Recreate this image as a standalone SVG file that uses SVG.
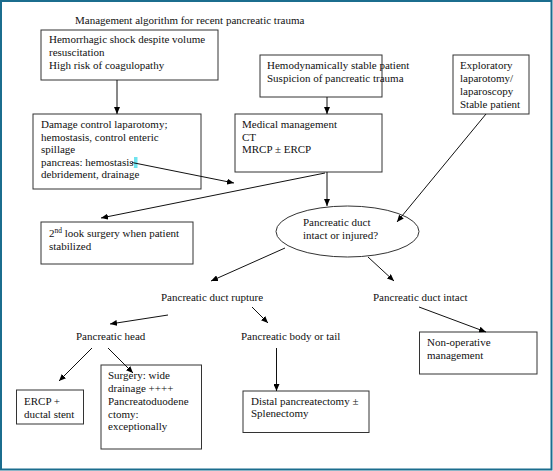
<svg xmlns="http://www.w3.org/2000/svg" width="553" height="471" viewBox="0 0 553 471">
<defs>
<marker id="ah" markerUnits="userSpaceOnUse" markerWidth="8" markerHeight="6" refX="7" refY="3" orient="auto">
<path d="M0,0 L7,3 L0,6 Z" fill="#000"/>
</marker>
<style>
text{font-family:"Liberation Serif","Times New Roman",serif;font-size:11px;fill:#111}
.box{fill:#fff;stroke:#333;stroke-width:1}
.c{stroke:#111;stroke-width:1;fill:none;marker-end:url(#ah)}
</style>
</defs>
<rect x="0" y="0" width="553" height="471" fill="#fff"/>
<rect x="1" y="1" width="550.5" height="468.5" fill="none" stroke="#1b6d8e" stroke-width="2"/>
<text x="75" y="24">Management algorithm for recent pancreatic trauma</text>

<g id="n-shock">
<rect class="box" x="41" y="30" width="177" height="50"/>
<text x="49" y="43">Hemorrhagic shock despite volume</text>
<text x="49" y="56">resuscitation</text>
<text x="49" y="69">High risk of coagulopathy</text>
</g>

<g id="n-damage">
<rect class="box" x="33" y="114" width="168" height="75"/>
<text x="41" y="128">Damage control laparotomy;</text>
<text x="41" y="140.5">hemostasis, control enteric</text>
<text x="41" y="153">spillage</text>
<text x="41" y="165.5">pancreas: hemostasis,</text>
<text x="41" y="178">debridement, drainage</text>
<rect x="134" y="157" width="3.5" height="11" fill="#6fe3ee"/>
</g>

<g id="n-stable">
<rect class="box" x="260" y="55" width="122" height="42"/>
<text x="267" y="68.5">Hemodynamically stable patient</text>
<text x="267" y="81.5">Suspicion of pancreatic trauma</text>
</g>

<g id="n-medical">
<rect class="box" x="235" y="114" width="147" height="58"/>
<text x="242" y="128">Medical management</text>
<text x="242" y="140.5">CT</text>
<text x="242" y="153">MRCP ± ERCP</text>
</g>

<g id="n-explor">
<rect class="box" x="453" y="55" width="76" height="59"/>
<text x="460" y="68.5">Exploratory</text>
<text x="460" y="81.5">laparotomy/</text>
<text x="460" y="94.5">laparoscopy</text>
<text x="460" y="107.5">Stable patient</text>
</g>

<g id="n-duct">
<ellipse cx="347.5" cy="231.5" rx="71.5" ry="25.5" fill="#fff" stroke="#333" stroke-width="1"/>
<text x="303" y="226">Pancreatic duct</text>
<text x="303" y="239">intact or injured?</text>
</g>

<g id="n-secondlook">
<rect class="box" x="41" y="222" width="152" height="42"/>
<text x="49" y="237">2<tspan font-size="7.5" dy="-4">nd</tspan><tspan dy="4"> look surgery when patient</tspan></text>
<text x="49" y="249.5">stabilized</text>
</g>

<g id="n-rupture">
<text x="161" y="301">Pancreatic duct rupture</text>
</g>

<g id="n-intact">
<text x="373" y="301">Pancreatic duct intact</text>
</g>

<g id="n-nonop">
<rect class="box" x="419.5" y="332" width="117.5" height="42"/>
<text x="427" y="346">Non-operative</text>
<text x="427" y="358.5">management</text>
</g>

<g id="n-head">
<text x="76" y="339.5">Pancreatic head</text>
</g>

<g id="n-bodytail">
<text x="241" y="339.5">Pancreatic body or tail</text>
</g>

<g id="n-ercp">
<rect class="box" x="16.5" y="390" width="67" height="34"/>
<text x="24" y="404.5">ERCP +</text>
<text x="24" y="417.5">ductal stent</text>
</g>

<g id="n-surgery">
<rect class="box" x="101" y="365" width="100.5" height="84"/>
<text x="108" y="379">Surgery: wide</text>
<text x="108" y="391.5">drainage ++++</text>
<text x="108" y="404.5">Pancreatoduodene</text>
<text x="108" y="417.5">ctomy:</text>
<text x="108" y="430">exceptionally</text>
</g>

<g id="n-distal">
<rect class="box" x="243" y="391" width="126" height="41.5"/>
<text x="251" y="404.5">Distal pancreatectomy ±</text>
<text x="251" y="417">Splenectomy</text>
</g>

<g id="connectors">
<line class="c" x1="117" y1="80" x2="117" y2="114"/>
<line class="c" x1="327" y1="97" x2="327" y2="114"/>
<line class="c" x1="132" y1="162.5" x2="234" y2="183"/>
<line class="c" x1="327" y1="172" x2="327" y2="206"/>
<line class="c" x1="325" y1="173" x2="101" y2="218"/>
<line class="c" x1="486" y1="114" x2="397" y2="222"/>
<line class="c" x1="285" y1="248" x2="211" y2="281"/>
<line class="c" x1="368" y1="257" x2="394" y2="281"/>
<line class="c" x1="419" y1="307" x2="486" y2="332"/>
<line class="c" x1="168" y1="315" x2="110" y2="324"/>
<line class="c" x1="252" y1="307" x2="268" y2="323"/>
<line class="c" x1="92" y1="348" x2="59" y2="381"/>
<line class="c" x1="108" y1="348" x2="133" y2="373"/>
<line class="c" x1="276.5" y1="348" x2="276.5" y2="391"/>
</g>
</svg>
